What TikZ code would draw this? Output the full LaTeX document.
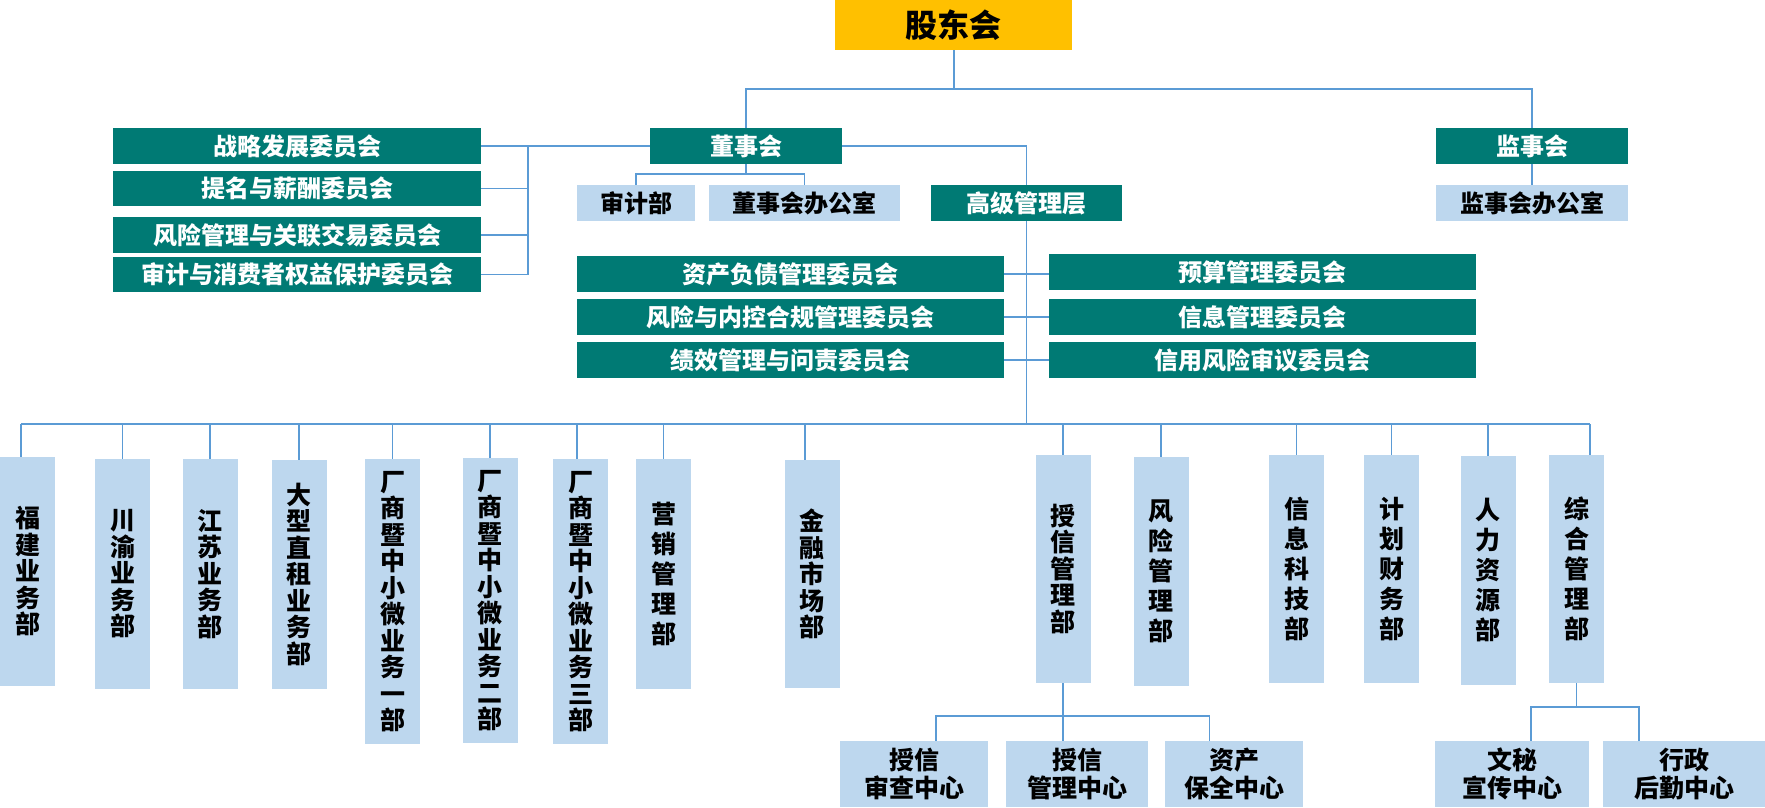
\documentclass[tikz,border=0pt]{standalone}
\usepackage{fontspec}
\setmainfont{Noto Sans CJK SC}
\usetikzlibrary{calc}
\definecolor{tealc}{RGB}{0,122,116}
\definecolor{lightb}{RGB}{189,215,238}
\definecolor{yellowc}{RGB}{255,192,0}
\definecolor{lineb}{RGB}{91,155,213}
\begin{document}
\begin{tikzpicture}[x=1pt,y=-1pt,
  conn/.style={draw=lineb, line width=1.8pt},
  tbox/.style={fill=tealc, text=white, inner sep=0pt, minimum height=36pt,
    font=\bfseries\fontsize{24}{26}\selectfont},
  lbox/.style={fill=lightb, text=black, inner sep=0pt, minimum height=36pt,
    font=\bfseries\fontsize{24}{26}\selectfont},
  vbox/.style={fill=lightb, text=black, inner sep=0pt, minimum width=55pt, align=center,
    font=\bfseries\fontsize{25}{26.5}\selectfont},
  vboxw/.style={vbox, font=\bfseries\fontsize{25}{30}\selectfont},
  sbox/.style={fill=lightb, text=black, inner sep=0pt, minimum height=66pt, align=center,
    font=\bfseries\fontsize{25}{28}\selectfont}
]
\useasboundingbox (0,0) rectangle (1765,808);

% top
\node[fill=yellowc, text=black, inner sep=0pt, minimum width=237pt, minimum height=50pt,
  font=\bfseries\fontsize{32}{34}\selectfont] (sh) at (953.5,25) {股东会};
\node[tbox, minimum width=192pt] (ds) at (746,146) {董事会};
\node[tbox, minimum width=192pt] (js) at (1532,146) {监事会};

% board committees
\node[tbox, minimum width=368pt] (c1) at (297,146) {战略发展委员会};
\node[tbox, minimum width=368pt, minimum height=35pt] (c2) at (297,188.5) {提名与薪酬委员会};
\node[tbox, minimum width=368pt] (c3) at (297,235) {风险管理与关联交易委员会};
\node[tbox, minimum width=368pt, minimum height=35pt] (c4) at (297,274.5) {审计与消费者权益保护委员会};

\node[lbox, minimum width=118pt] (sj) at (636,203) {审计部};
\node[lbox, minimum width=191pt] (db) at (804.5,203) {董事会办公室};
\node[tbox, minimum width=191pt] (gj) at (1026.5,203) {高级管理层};
\node[lbox, minimum width=192pt] (jb) at (1532,203) {监事会办公室};

% management committees
\node[tbox, minimum width=427pt] (m1) at (790.5,274) {资产负债管理委员会};
\node[tbox, minimum width=427pt] (m2) at (790.5,317) {风险与内控合规管理委员会};
\node[tbox, minimum width=427pt] (m3) at (790.5,360) {绩效管理与问责委员会};
\node[tbox, minimum width=427pt] (m4) at (1262.5,272) {预算管理委员会};
\node[tbox, minimum width=427pt] (m5) at (1262.5,317) {信息管理委员会};
\node[tbox, minimum width=427pt] (m6) at (1262.5,360) {信用风险审议委员会};

% departments
\node[vbox, minimum height=229pt] (d1) at (27.5,571.5) {福\\建\\业\\务\\部};
\node[vbox, minimum height=230pt] (d2) at (122.5,574) {川\\渝\\业\\务\\部};
\node[vbox, minimum height=230pt] (d3) at (210,574) {江\\苏\\业\\务\\部};
\node[vbox, minimum height=229pt] (d4) at (299,574.5) {大\\型\\直\\租\\业\\务\\部};
\node[vbox, minimum height=285pt] (d5) at (392.5,601.5) {厂\\商\\暨\\中\\小\\微\\业\\务\\一\\部};
\node[vbox, minimum height=285pt] (d6) at (490,600.5) {厂\\商\\暨\\中\\小\\微\\业\\务\\二\\部};
\node[vbox, minimum height=285pt] (d7) at (580.5,601.5) {厂\\商\\暨\\中\\小\\微\\业\\务\\三\\部};
\node[vboxw, minimum height=230pt] (d8) at (663.5,574) {营\\销\\管\\理\\部};
\node[vbox, minimum height=228pt] (d9) at (812,574) {金\\融\\市\\场\\部};
\node[vbox, minimum height=228pt] (d10) at (1063,569) {授\\信\\管\\理\\部};
\node[vboxw, minimum height=229pt] (d11) at (1161,571.5) {风\\险\\管\\理\\部};
\node[vboxw, minimum height=228pt] (d12) at (1296.5,569) {信\\息\\科\\技\\部};
\node[vboxw, minimum height=228pt] (d13) at (1391.5,569) {计\\划\\财\\务\\部};
\node[vboxw, minimum height=229pt] (d14) at (1488,570.5) {人\\力\\资\\源\\部};
\node[vboxw, minimum height=228pt] (d15) at (1576.5,569) {综\\合\\管\\理\\部};

% sub centres
\node[sbox, minimum width=148pt] (s1) at (914,774) {授信\\审查中心};
\node[sbox, minimum width=142pt] (s2) at (1077,774) {授信\\管理中心};
\node[sbox, minimum width=138pt] (s3) at (1234,774) {资产\\保全中心};
\node[sbox, minimum width=154pt] (s4) at (1512,774) {文秘\\宣传中心};
\node[sbox, minimum width=162pt] (s5) at (1684,774) {行政\\后勤中心};

% hub coordinates
\coordinate (top) at (954,89);
\coordinate (lv) at (528,146);
\coordinate (dsb) at (746,174);
\coordinate (busL) at (21,424);
\coordinate (busR) at (1590,424);
\coordinate (sxh) at (1063,716);
\coordinate (zhh) at (1576.5,707);

% connectors
\draw[conn] (sh.south -| top) -- (top);
\draw[conn] (ds.north) |- (top) -| (js.north);
\draw[conn] (js.south) -- (jb.north);
\draw[conn] (ds.west) -- (c1.east);
\draw[conn] (lv) |- (c4.east);
\draw[conn] (c2.east) -- (c2.east -| lv);
\draw[conn] (c3.east) -- (c3.east -| lv);
\draw[conn] (ds.east) -| (gj.north);
\draw[conn] (ds.south) -- (dsb);
\draw[conn] (sj.north) |- (dsb) -| (db.north);
\draw[conn] (gj.south) -- (gj.south |- busL);
\draw[conn] (m1.east) -- (m1.east -| m4.west);
\draw[conn] (m2.east) -- (m5.west);
\draw[conn] (m3.east) -- (m6.west);
\draw[conn] (busL) -- (busR);
\foreach \n/\dx in {d1/-6.5,d2/0,d3/0,d4/0,d5/0,d6/0,d7/-3.5,d8/0,d9/-7,d10/0,d11/0,d12/0,d13/0,d14/0,d15/13.5}{
  \draw[conn] ([xshift=\dx pt]\n.north) -- ([xshift=\dx pt]\n.north |- busL);
}
\draw[conn] (d10.south) -- (sxh);
\draw[conn] ([xshift=22pt]s1.north) |- (sxh) -| ([xshift=-24.5pt]s3.north);
\draw[conn] (sxh) -- ([xshift=-14pt]s2.north);
\draw[conn] (d15.south) -- (zhh);
\draw[conn] ([xshift=19pt]s4.north) |- (zhh) -| ([xshift=-45pt]s5.north);
\end{tikzpicture}
\end{document}
